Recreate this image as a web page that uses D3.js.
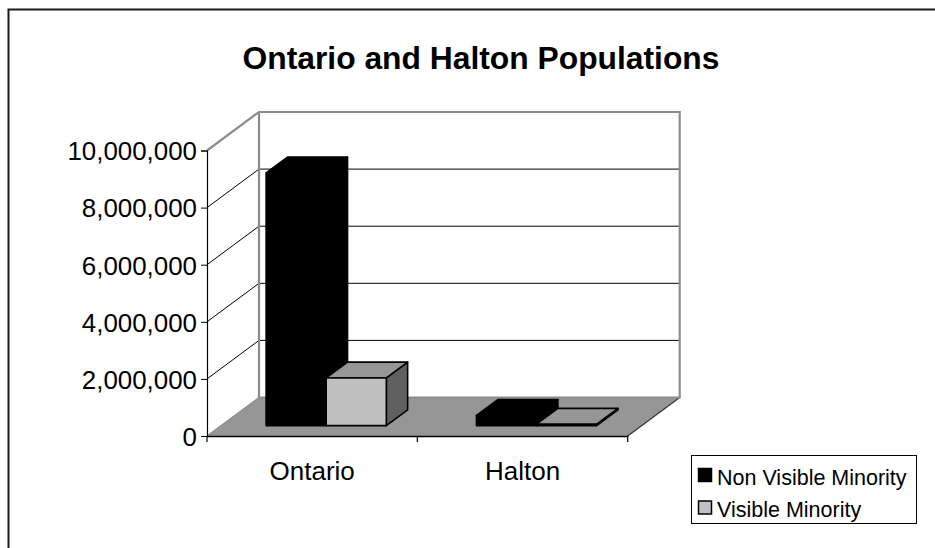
<!DOCTYPE html>
<html>
<head>
<meta charset="utf-8">
<script src="https://cdn.jsdelivr.net/npm/d3@7"></script>
<style>
  html, body { margin: 0; padding: 0; background: #fff; }
  svg { display: block; font-family: "Liberation Sans", Arial, sans-serif; }
</style>
</head>
<body>
<svg id="chart" width="935" height="548"></svg>
<script>
// Population counts by region (persons)
const categories = ["Ontario", "Halton"];
const seriesNames = ["Non Visible Minority", "Visible Minority"];
const nonVisibleMinority = [8850000, 360000];
const visibleMinority = [1670000, 50000];
const yTicks = [0, 2000000, 4000000, 6000000, 8000000, 10000000];
const chartTitle = "Ontario and Halton Populations";

const seriesValues = [nonVisibleMinority, visibleMinority];

const svg = d3.select("#chart");

// Oblique 3D projection: depth t in [0,1] shifts points up and to the right
const DX = 52, DY = 38.5;
const x = d3.scaleBand().domain(categories).range([207, 627.7]).paddingInner(0).paddingOuter(0);
const xs = d3.scaleBand().domain(seriesNames).range([0, x.bandwidth()]).paddingInner(0).paddingOuter(0.75);
const y = d3.scaleLinear().domain([0, 10000000]).range([436, 150.5]);

const P = (px, v, t) => [px + t * DX, y(v) - t * DY];
const poly = pts => "M" + pts.map(p => p.join(",")).join("L") + "Z";

// Outer frame
svg.append("rect")
  .attr("x", 8.5).attr("y", 9.5).attr("width", 960).attr("height", 600)
  .attr("fill", "none").attr("stroke", "#1a1a1a").attr("stroke-width", 2);

// Title
svg.append("text")
  .attr("x", 481).attr("y", 69)
  .attr("text-anchor", "middle")
  .attr("font-size", 31.8).attr("font-weight", "bold")
  .text(chartTitle);

const x0 = x.range()[0], x1 = x.range()[1];
const vMax = y.domain()[1];

// Floor
svg.append("path")
  .attr("d", poly([P(x0, 0, 0), P(x0, 0, 1), P(x1, 0, 1), P(x1, 0, 0)]))
  .attr("fill", "#969696").attr("stroke", "none");
svg.append("path")
  .attr("d", "M" + P(x1, 0, 0) + "L" + P(x1, 0, 1))
  .attr("stroke", "#333").attr("stroke-width", 1.2).attr("fill", "none");

// Back wall gridlines
svg.append("g").selectAll("line").data(yTicks.slice(1, -1)).join("line")
  .attr("x1", d => P(x0, d, 1)[0]).attr("y1", d => P(x0, d, 1)[1])
  .attr("x2", d => P(x1, d, 1)[0]).attr("y2", d => P(x1, d, 1)[1])
  .attr("stroke", "#000").attr("stroke-width", 1);

// Side wall gridlines
svg.append("g").selectAll("line").data(yTicks.slice(1, -1)).join("line")
  .attr("x1", d => P(x0, d, 0)[0]).attr("y1", d => P(x0, d, 0)[1])
  .attr("x2", d => P(x0, d, 1)[0]).attr("y2", d => P(x0, d, 1)[1])
  .attr("stroke", "#000").attr("stroke-width", 1);

// Wall outlines
svg.append("path")
  .attr("d", "M" + P(x0, vMax, 0) + "L" + P(x0, vMax, 1) + "L" + P(x1, vMax, 1) + "L" + P(x1, 0, 1) + "L" + P(x0, 0, 1) + "L" + P(x0, vMax, 1))
  .attr("fill", "none").attr("stroke", "#8c8c8c").attr("stroke-width", 2.2)
  .attr("stroke-linejoin", "miter");
svg.append("path")
  .attr("d", "M" + P(x0, 0, 0) + "L" + P(x0, 0, 1))
  .attr("fill", "none").attr("stroke", "#8c8c8c").attr("stroke-width", 1.2);

// Bars
const T0 = 0.27, T1 = 0.68;
const faceColors = [
  { front: "#000000", top: "#000000", side: "#000000" },
  { front: "#c0c0c0", top: "#969696", side: "#606060" }
];
const barData = [];
categories.forEach((c, ci) => {
  seriesNames.forEach((s, si) => {
    barData.push({ c, s, si, v: seriesValues[si][ci] });
  });
});
const bars = svg.append("g").selectAll("g").data(barData).join("g");
bars.each(function (d) {
  const g = d3.select(this);
  const a = x(d.c) + xs(d.s), b = a + xs.bandwidth();
  const col = faceColors[d.si];
  const common = sel => sel.attr("stroke", "#000").attr("stroke-width", 1.6).attr("stroke-linejoin", "round");
  g.append("path").attr("d", poly([P(b, 0, T0), P(b, d.v, T0), P(b, d.v, T1), P(b, 0, T1)]))
    .attr("fill", col.side).call(common);
  g.append("path").attr("d", poly([P(a, d.v, T0), P(a, d.v, T1), P(b, d.v, T1), P(b, d.v, T0)]))
    .attr("fill", col.top).call(common);
  g.append("path").attr("d", poly([P(a, 0, T0), P(a, d.v, T0), P(b, d.v, T0), P(b, 0, T0)]))
    .attr("fill", col.front).call(common);
});

// Value axis (front left edge)
const yAxis = d3.axisLeft(y).tickValues(yTicks).tickSize(6).tickPadding(4)
  .tickFormat(d3.format(","));
const ya = svg.append("g").attr("transform", `translate(${x0},0)`).call(yAxis);
ya.select(".domain").attr("stroke", "#000").attr("stroke-width", 1.2);
ya.selectAll(".tick line").attr("stroke", "#000");
ya.selectAll(".tick text").attr("font-size", 25.9).attr("font-family", "Liberation Sans, Arial, sans-serif").attr("fill", "#000");
ya.selectAll(".tick text").attr("dy", "0.36em");

// Category axis (front floor edge)
const xAxis = d3.axisBottom(x).tickSize(0).tickPadding(26);
const xa = svg.append("g").attr("transform", `translate(0,${y(0)})`).call(xAxis);
xa.select(".domain").attr("stroke", "#000").attr("stroke-width", 1.4);
xa.selectAll(".tick text").attr("font-size", 26).attr("font-family", "Liberation Sans, Arial, sans-serif").attr("fill", "#000");
// boundary ticks between categories
const bounds = [x0].concat(categories.map(c => x(c) + x.bandwidth()));
xa.append("g").selectAll("line").data(bounds).join("line")
  .attr("x1", d => d).attr("x2", d => d).attr("y1", 0).attr("y2", 6)
  .attr("stroke", "#000").attr("stroke-width", 1.2);

// Legend
const lg = svg.append("g");
lg.append("rect").attr("x", 691.5).attr("y", 455.5).attr("width", 225).attr("height", 68)
  .attr("fill", "#fff").attr("stroke", "#000").attr("stroke-width", 1);
const items = lg.selectAll("g.item").data(seriesNames).join("g").attr("class", "item")
  .attr("transform", (d, i) => `translate(698,${468 + i * 32.5})`);
items.append("rect").attr("x", 0.5).attr("y", 0.5).attr("width", 13).attr("height", 13)
  .attr("fill", (d, i) => faceColors[i].front).attr("stroke", "#000").attr("stroke-width", 1.5);
items.append("text").attr("x", 19).attr("y", 16.5)
  .attr("font-size", 21.5).attr("fill", "#000").text(d => d);
</script>
</body>
</html>
